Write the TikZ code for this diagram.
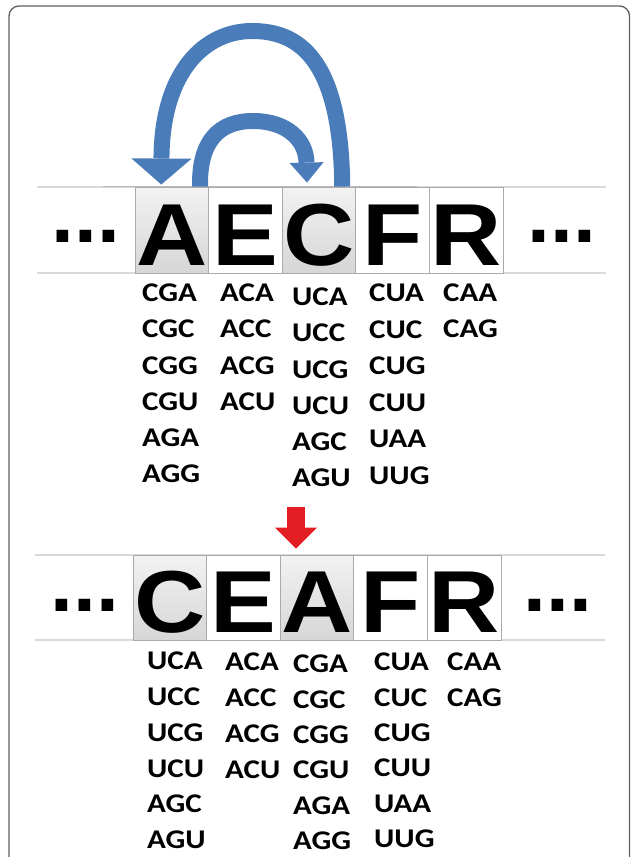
\documentclass[tikz,border=0pt]{standalone}
\usepackage{fontspec}
\setmainfont{Liberation Sans}
\newfontfamily\bigletterfont{Liberation Sans}[FakeStretch=1.12]
\newfontfamily\codonfont{Carlito}[FakeStretch=1.15]
\usetikzlibrary{arrows.meta}
\definecolor{arcblue}{RGB}{74,124,186}
\definecolor{redarrowc}{RGB}{226,30,36}
\definecolor{framegray}{RGB}{95,95,95}
\definecolor{rulegray}{RGB}{218,218,218}
\definecolor{boxedge}{RGB}{170,170,170}
\begin{document}
\begin{tikzpicture}[x=1pt,y=-1pt,
  aabox/.style={draw=boxedge, line width=0.9pt, minimum width=73.6pt, minimum height=86pt,
    inner sep=0pt, text height=70pt, text depth=0pt,
    font=\bigletterfont\fontsize{88}{88}\selectfont\bfseries},
  graybox/.style={aabox, top color=gray!10, bottom color=gray!32},
  whitebox/.style={aabox, fill=white},
  codon/.style={anchor=west, inner sep=0pt, font=\codonfont\fontsize{27}{27}\selectfont\bfseries},
  dotsnode/.style={inner sep=0pt, font=\fontsize{82}{82}\selectfont\bfseries},
  hrule/.style={draw=rulegray, line width=1.2pt},
  blueband/.style={draw=arcblue, line width=16pt},
  redband/.style={draw=redarrowc, line width=18pt, -{Triangle[width=42pt,length=21pt,line width=0pt]}}
]
\useasboundingbox (0,0) rectangle (632,857);
% frame
\draw[framegray, line width=1.3pt, rounded corners=10pt] (9,900) -- (9,6) -- (629.5,6) -- (629.5,900);

% ---------- top row ----------
\draw[hrule] (37,187) -- (606,187);
\draw[hrule] (37,273) -- (606,273);
\draw[gray!55, line width=0.9pt] (103,186) -- (417,186);
\node[graybox]  (A1) at (171.8,230) {A};
\node[whitebox] (E1) at (245.4,230) {E};
\node[graybox]  (C1) at (319.0,230) {C};
\node[whitebox] (F1) at (392.6,230) {F};
\node[whitebox] (R1) at (466.2,230) {R};
\node[dotsnode] (dl1) at (86,236) {...};
\node[dotsnode] (dr1) at (562,236) {...};

% arcs
\draw[blueband, -{Triangle[width=60pt,length=26pt,line width=0pt]}]
  ([xshift=-14pt]C1.north east) .. controls (341,55) and (296,31) .. (252,31)
  .. controls (206,31) and (162,70) .. ([xshift=-10.5pt,yshift=2pt]A1.north);
\draw[blueband, -{Triangle[width=34pt,length=20pt,line width=0pt]}]
  ([xshift=-9pt]A1.north east) .. controls (199,140) and (220,121) .. (253,121)
  .. controls (287,121) and (306,140) .. ([xshift=-12pt,yshift=4pt]C1.north);

% top codons
\foreach \t [count=\i] in {CGA,CGC,CGG,CGU,AGA,AGG}
  \node[codon] (ta\i) at (142,{293+36.2*(\i-1)}) {\t};
\foreach \t [count=\i] in {ACA,ACC,ACG,ACU}
  \node[codon] (tb\i) at (220,{293+36.2*(\i-1)}) {\t};
\foreach \t [count=\i] in {UCA,UCC,UCG,UCU,AGC,AGU}
  \node[codon] (tc\i) at (292,{297+36.2*(\i-1)}) {\t};
\foreach \t [count=\i] in {CUA,CUC,CUG,CUU,UAA,UUG}
  \node[codon] (td\i) at (369,{293+36.5*(\i-1)}) {\t};
\foreach \t [count=\i] in {CAA,CAG}
  \node[codon] (te\i) at (443,{293+36.2*(\i-1)}) {\t};

% ---------- red arrow ----------
\coordinate (redtop) at (296,507);

% ---------- bottom row ----------
\draw[hrule] (35,555) -- (605,555);
\draw[hrule] (35,640) -- (605,640);
\node[graybox, minimum height=85pt]  (C2) at (169.8,597.5) {C};
\node[whitebox, minimum height=85pt] (E2) at (243.4,597.5) {E};
\node[graybox, minimum height=85pt]  (A2) at (317.0,597.5) {A};
\node[whitebox, minimum height=85pt] (F2) at (390.6,597.5) {F};
\node[whitebox, minimum height=85pt] (R2) at (464.2,597.5) {R};
\node[dotsnode] (dl2) at (85,605) {...};
\node[dotsnode] (dr2) at (558,605) {...};

\draw[redband] (redtop) -- ([xshift=-21pt,yshift=6pt]A2.north);

% bottom codons
\foreach \t [count=\i] in {UCA,UCC,UCG,UCU,AGC,AGU}
  \node[codon] (ba\i) at (147,{661+35.8*(\i-1)}) {\t};
\foreach \t [count=\i] in {ACA,ACC,ACG,ACU}
  \node[codon] (bb\i) at (225,{662+35.8*(\i-1)}) {\t};
\foreach \t [count=\i] in {CGA,CGC,CGG,CGU,AGA,AGG}
  \node[codon] (bc\i) at (293,{664+35.4*(\i-1)}) {\t};
\foreach \t [count=\i] in {CUA,CUC,CUG,CUU,UAA,UUG}
  \node[codon] (bd\i) at (374,{662+35.4*(\i-1)}) {\t};
\foreach \t [count=\i] in {CAA,CAG}
  \node[codon] (be\i) at (447,{662+35.8*(\i-1)}) {\t};
\end{tikzpicture}
\end{document}
